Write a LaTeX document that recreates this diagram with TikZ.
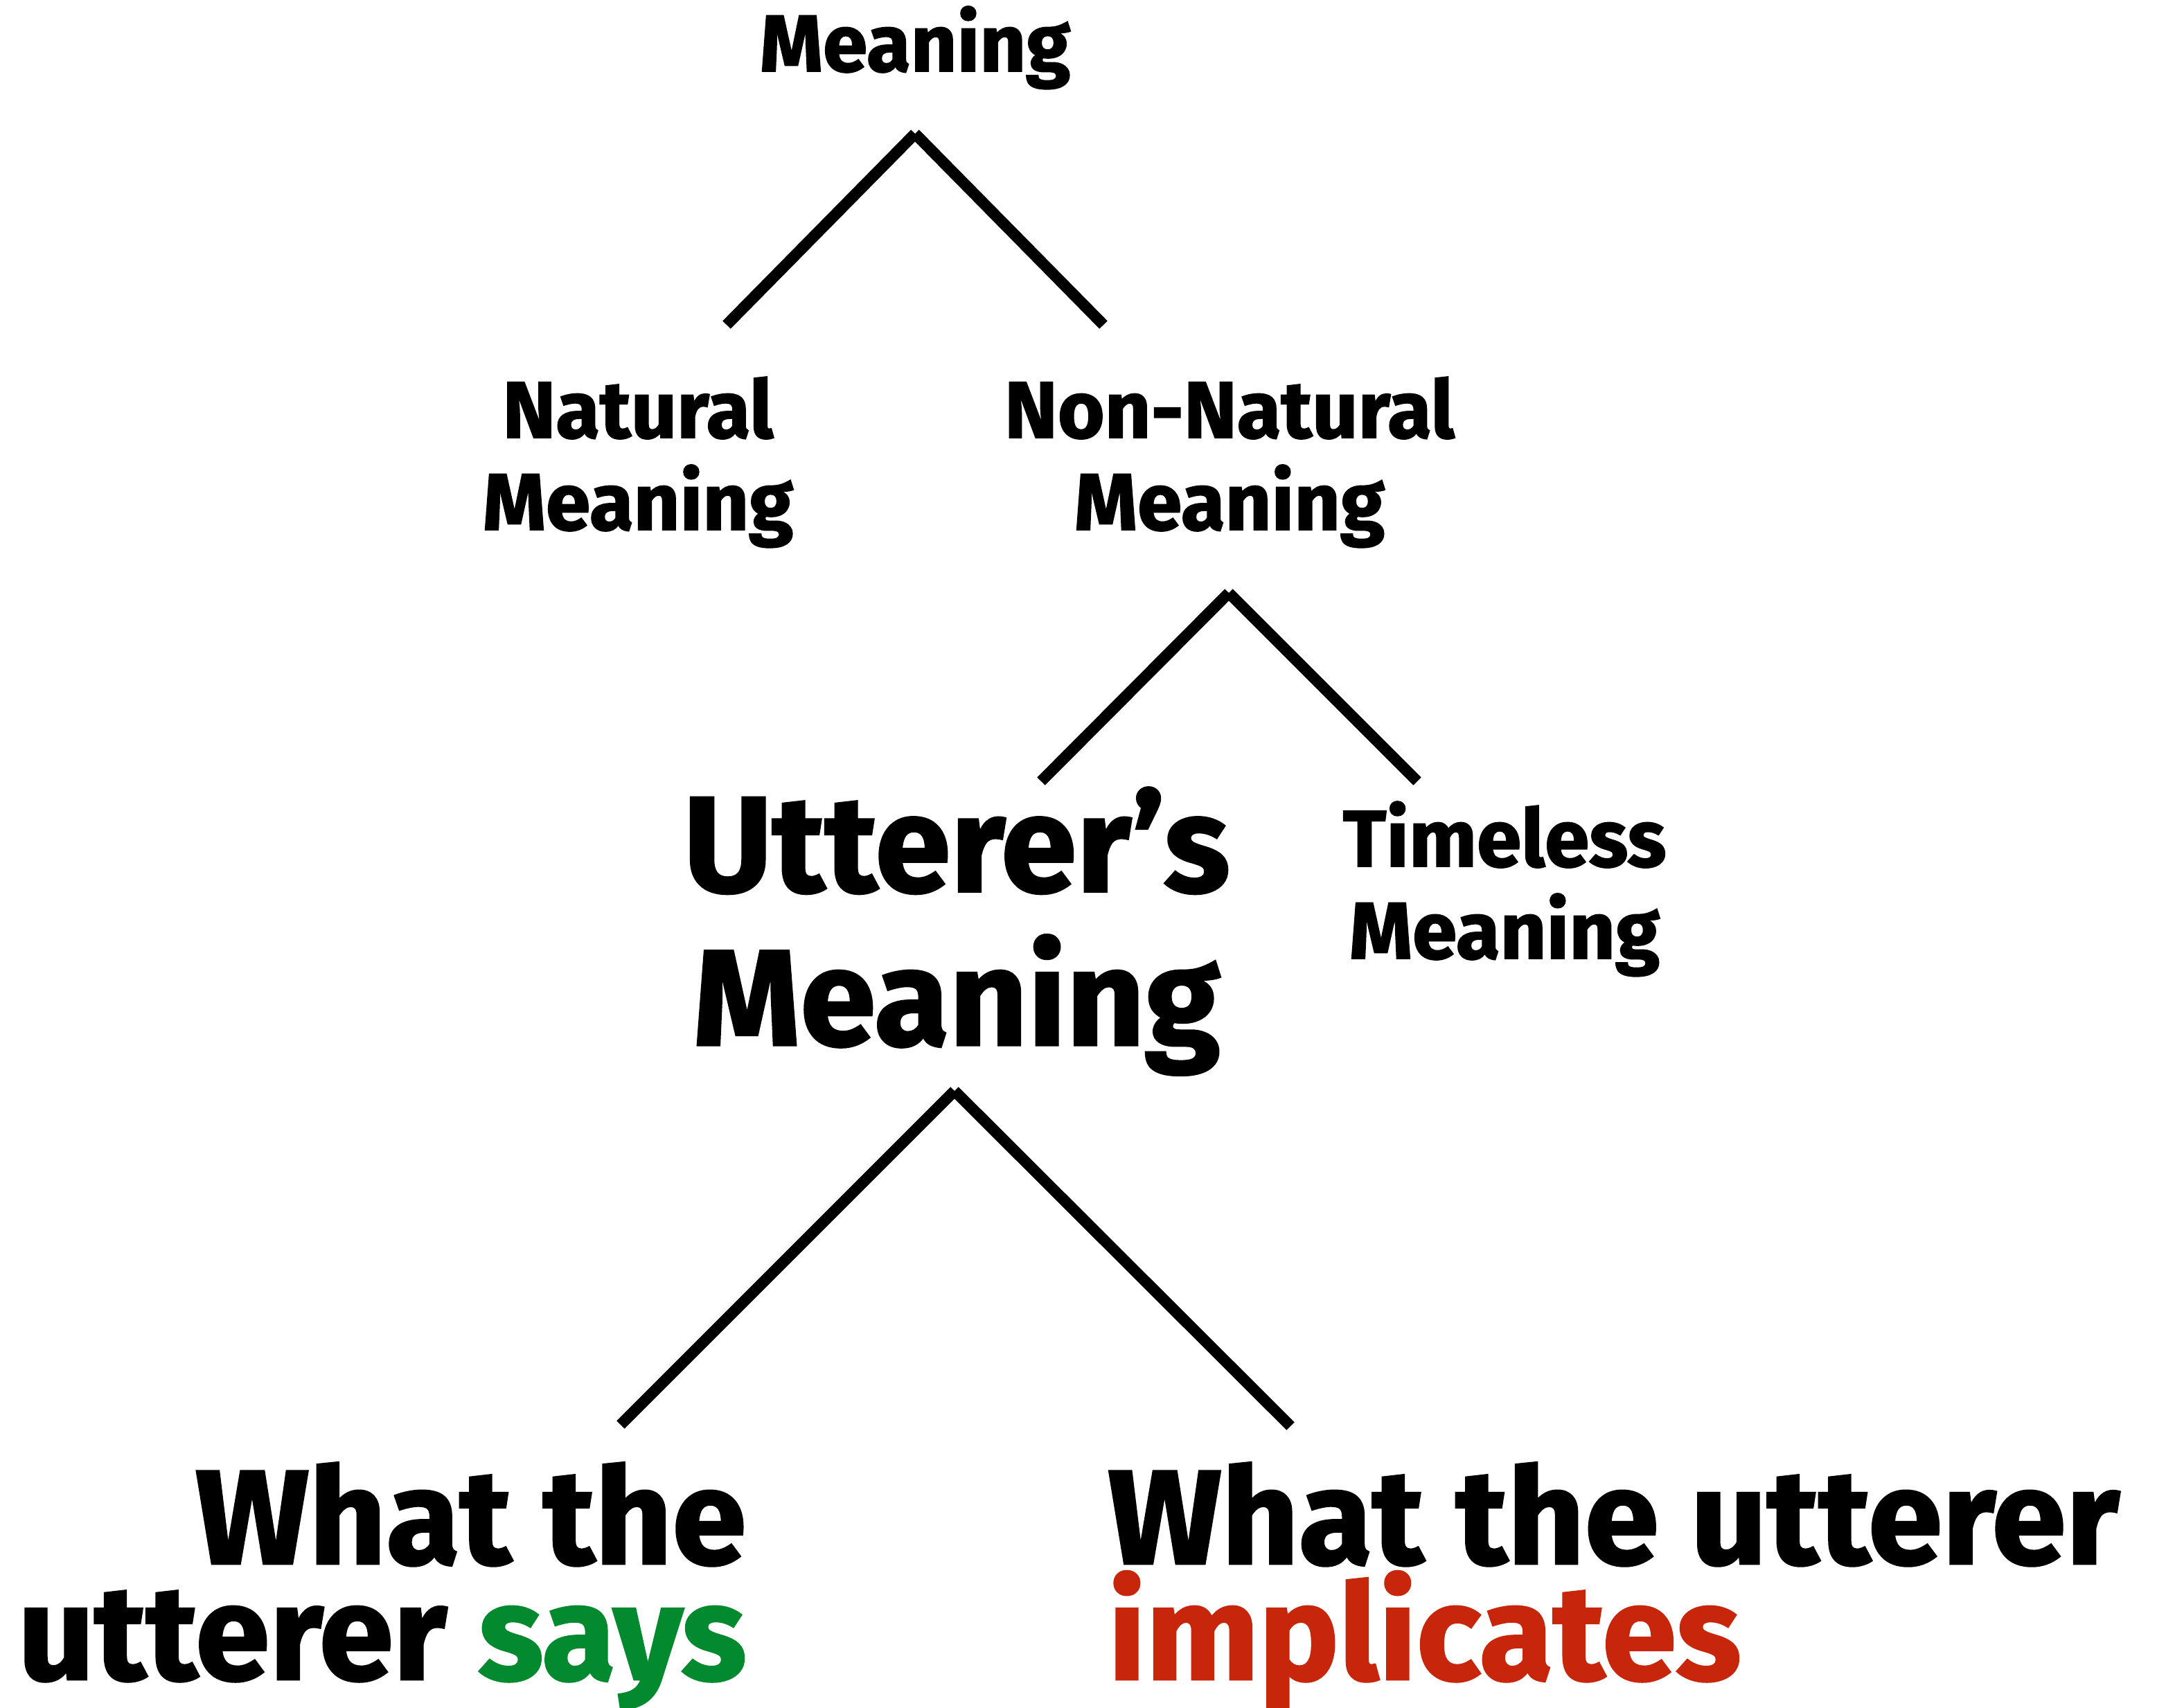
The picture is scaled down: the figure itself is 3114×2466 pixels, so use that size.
\documentclass[tikz,border=0pt]{standalone}
\usepackage{fontspec}
\setmainfont{Fira Sans}[BoldFeatures={FakeBold=1.5}]
\definecolor{saygreen}{RGB}{3,137,46}
\definecolor{implred}{RGB}{200,38,10}

\begin{document}
\begin{tikzpicture}[x=0.01cm,y=-0.01cm,
  small/.style={font=\fontsize{33}{37.8}\selectfont\bfseries,align=center,inner sep=0pt,anchor=base},
  big/.style={font=\fontsize{56}{63}\selectfont\bfseries,align=center,inner sep=0pt,anchor=base},
  bottom/.style={font=\fontsize{55}{47.5}\selectfont\bfseries,inner sep=0pt},
  branch/.style={line width=4.6pt}]
  \useasboundingbox (0,0) rectangle (3114,2466);

  \node[small] (meaning) at (1321,103) {Meaning};
  \node[small] (natural) at (921,765) {Natural\\Meaning};
  \node[small] (nonnatural) at (1775,765) {Non-Natural\\Meaning};
  \node[big] (utterer) at (1381,1509) {Utterer’s\\Meaning};
  \node[small] (timeless) at (2172,1384) {Timeless\\Meaning};
  \node[bottom,align=right,anchor=base east] (says) at (1078,2425)
    {What the\\utterer \textcolor{saygreen}{says}};
  \node[bottom,align=left,anchor=base west] (implicates) at (1599,2425)
    {What the utterer\\\textcolor{implred}{implicates}};

  % forks
  \coordinate (meaning-fork) at (1321,193);
  \coordinate (natural-end) at (1049,469);
  \coordinate (nonnatural-end) at (1593,469);
  \coordinate (nonnatural-fork) at (1774,856);
  \coordinate (utterer-end) at (1503,1128);
  \coordinate (timeless-end) at (2046,1128);
  \coordinate (utterer-fork) at (1378,1575);
  \coordinate (says-end) at (896,2057);
  \coordinate (implicates-end) at (1863,2059);

  \draw[branch] (meaning-fork) -- (natural-end);
  \draw[branch] (meaning-fork) -- (nonnatural-end);
  \draw[branch] (nonnatural-fork) -- (utterer-end);
  \draw[branch] (nonnatural-fork) -- (timeless-end);
  \draw[branch] (utterer-fork) -- (says-end);
  \draw[branch] (utterer-fork) -- (implicates-end);
\end{tikzpicture}
\end{document}
